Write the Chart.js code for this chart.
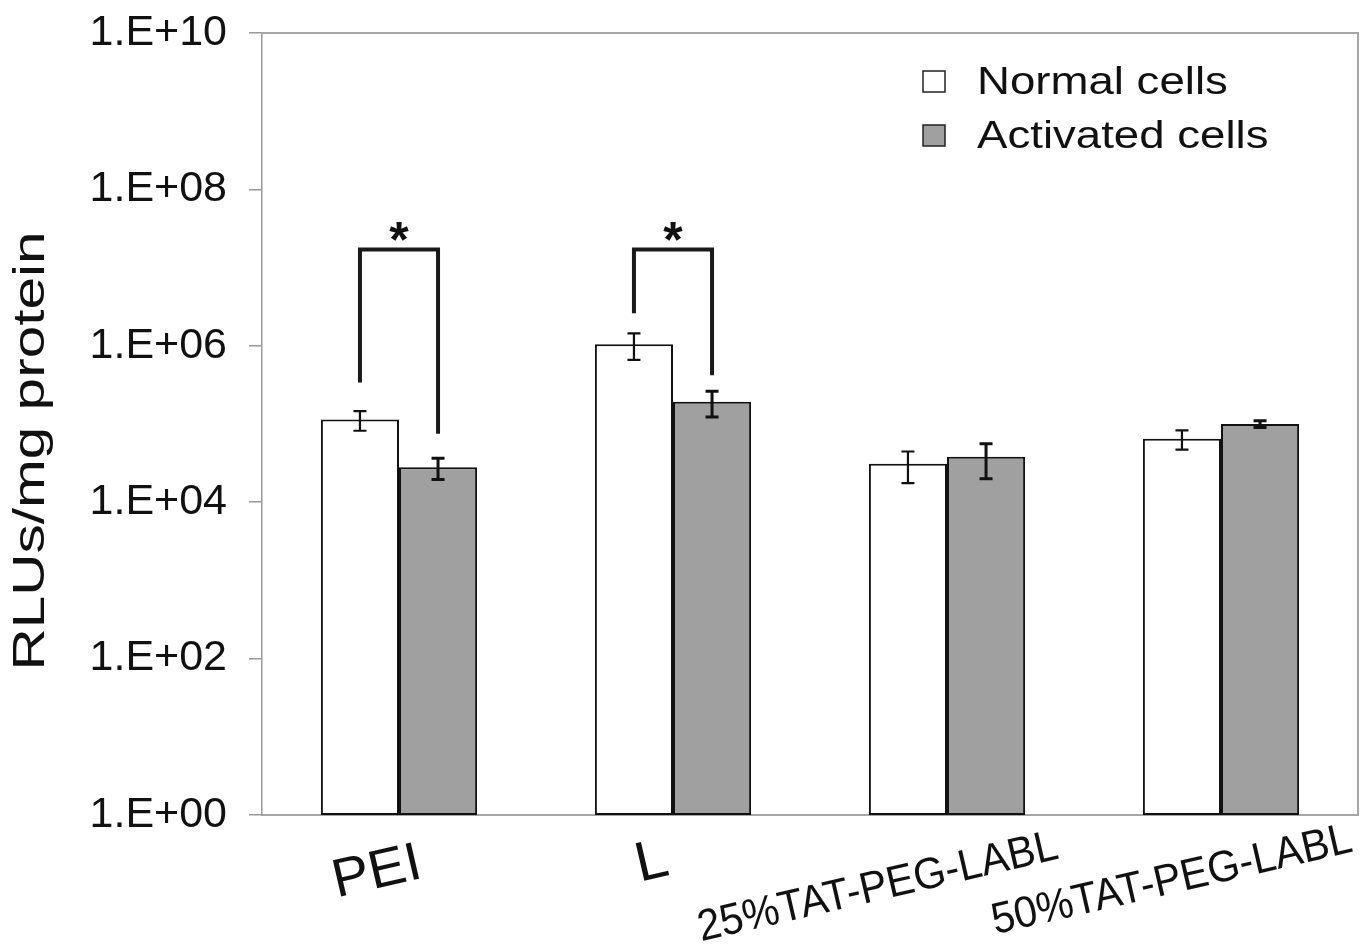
<!DOCTYPE html>
<html>
<head>
<meta charset="utf-8">
<script src="https://cdn.jsdelivr.net/npm/chart.js@4.4.1/dist/chart.umd.min.js"></script>
<style>
  html, body { margin: 0; padding: 0; background: #fff; }
  #wrap { width: 1362px; height: 952px; }
</style>
</head>
<body>
<div id="wrap"><canvas id="grafico" width="1362" height="952"></canvas></div>
<script>
// dados
const categorias = ["PEI", "L", "25%TAT-PEG-LABL", "50%TAT-PEG-LABL"];
const normalCells = [1.14e5, 1.05e6, 3.1e4, 6.5e4];
const normalErr = [3.2e4, 3.9e5, 1.35e4, 1.8e4];
const activatedCells = [2.8e4, 1.93e5, 3.8e4, 1.0e5];
const activatedErr = [8.5e3, 7.0e4, 1.8e4, 1.0e4];
const yTicks = [1, 1e2, 1e4, 1e6, 1e8, 1e10];

// colchetes de significância (*)
const bracketCat = [0, 1];
const bracketTop = [1.7e7, 1.7e7];
const bracketLeftEnd = [3.4e5, 2.6e6];
const bracketRightEnd = [7.5e4, 4.2e5];

const FONT = "'Liberation Sans', Arial, sans-serif";

// texto esticado na direção da escrita
function texto(ctx, str, x, y, size, sx, ang, align, base) {
  ctx.save();
  ctx.translate(x, y);
  ctx.rotate(ang);
  ctx.scale(sx, 1);
  ctx.font = `${size}px ${FONT}`;
  ctx.fillStyle = "#111";
  ctx.textAlign = align;
  ctx.textBaseline = base;
  ctx.fillText(str, 0, 0);
  ctx.restore();
}

const extras = {
  id: "extras",
  afterDatasetsDraw(chart) {
    const { ctx, chartArea: a, scales: { x, y } } = chart;

    // moldura cinza (topo e direita)
    ctx.save();
    ctx.strokeStyle = "#a6a6a6";
    ctx.lineWidth = 2;
    ctx.beginPath();
    ctx.moveTo(a.left, a.top);
    ctx.lineTo(a.right, a.top);
    ctx.lineTo(a.right, a.bottom);
    ctx.stroke();
    ctx.restore();

    // barras de erro
    const erros = [normalErr, activatedErr];
    chart.data.datasets.forEach((ds, di) => {
      const meta = chart.getDatasetMeta(di);
      meta.data.forEach((bar, i) => {
        const v = ds.data[i], e = erros[di][i];
        const yHi = y.getPixelForValue(v + e);
        const yLo = y.getPixelForValue(v - e);
        ctx.save();
        ctx.strokeStyle = "#111";
        ctx.lineWidth = di === 0 ? 2.2 : 3;
        ctx.beginPath();
        ctx.moveTo(bar.x, yHi); ctx.lineTo(bar.x, yLo);
        ctx.moveTo(bar.x - 6.5, yHi); ctx.lineTo(bar.x + 6.5, yHi);
        ctx.moveTo(bar.x - 6.5, yLo); ctx.lineTo(bar.x + 6.5, yLo);
        ctx.stroke();
        ctx.restore();
      });
    });

    // colchetes + asterisco
    const m0 = chart.getDatasetMeta(0), m1 = chart.getDatasetMeta(1);
    bracketCat.forEach((c, k) => {
      const xl = m0.data[c].x, xr = m1.data[c].x;
      const yt = y.getPixelForValue(bracketTop[k]);
      ctx.save();
      ctx.strokeStyle = "#1a1a1a";
      ctx.lineWidth = 4;
      ctx.lineJoin = "miter";
      ctx.beginPath();
      ctx.moveTo(xl, y.getPixelForValue(bracketLeftEnd[k]));
      ctx.lineTo(xl, yt);
      ctx.lineTo(xr, yt);
      ctx.lineTo(xr, y.getPixelForValue(bracketRightEnd[k]));
      ctx.stroke();
      ctx.restore();
      ctx.save();
      ctx.font = `bold 50px ${FONT}`;
      ctx.fillStyle = "#111";
      ctx.textAlign = "center";
      ctx.textBaseline = "alphabetic";
      ctx.fillText("*", (xl + xr) / 2, yt + 7);
      ctx.restore();
    });

    // rótulos do eixo x (rotacionados)
    const dx = [-22, -21, -69, -49];
    const dy = [58, 48, 73, 66];
    const tam = [54, 56, 44, 44];
    const esp = [1.03, 1.03, 0.94, 0.94];
    categorias.forEach((lab, i) => {
      const cx = x.getPixelForValue(i) + dx[i];
      texto(ctx, lab, cx, a.bottom + dy[i], tam[i], esp[i], -13 * Math.PI / 180, "center", "middle");
    });

    // título do eixo y
    texto(ctx, "RLUs/mg protein", 44, 451, 44, 1.33, -Math.PI / 2, "center", "alphabetic");

    // legenda
    const leg = [["Normal cells", "#ffffff"], ["Activated cells", "#a0a0a0"]];
    leg.forEach(([nome, cor], i) => {
      const by = 71 + i * 54;
      ctx.save();
      ctx.fillStyle = cor;
      ctx.strokeStyle = "#222";
      ctx.lineWidth = 1.5;
      ctx.fillRect(923, by, 22, 21);
      ctx.strokeRect(923, by, 22, 21);
      ctx.restore();
      texto(ctx, nome, 977, by + 23, 38, 1.2, 0, "left", "alphabetic");
    });
  }
};

new Chart(document.getElementById("grafico"), {
  type: "bar",
  data: {
    labels: categorias,
    datasets: [
      { label: "Normal cells", data: normalCells, backgroundColor: "#ffffff", borderColor: "#111", borderWidth: 2, borderSkipped: false },
      { label: "Activated cells", data: activatedCells, backgroundColor: "#a0a0a0", borderColor: "#111", borderWidth: 2, borderSkipped: false }
    ]
  },
  options: {
    responsive: false,
    animation: false,
    layout: { padding: { top: 33, right: 4, left: 0, bottom: 0 } },
    plugins: { legend: { display: false }, tooltip: { enabled: false } },
    datasets: { bar: { categoryPercentage: 0.57, barPercentage: 1.0 } },
    scales: {
      x: {
        offset: true,
        grid: { display: true, drawOnChartArea: false, drawTicks: false },
        border: { display: true, color: "#a6a6a6", width: 2 },
        ticks: { display: false },
        afterFit: s => { s.height = 137; }
      },
      y: {
        type: "logarithmic",
        min: 1,
        max: 1e10,
        grid: { display: true, drawOnChartArea: false, tickLength: 13, color: "#999", lineWidth: 1.5 },
        border: { display: true, color: "#999", width: 1.5 },
        afterBuildTicks: s => { s.ticks = yTicks.map(v => ({ value: v })); },
        ticks: {
          padding: 22,
          color: "#111",
          font: { family: FONT, size: 43 },
          callback: v => "1.E+" + String(Math.round(Math.log10(v))).padStart(2, "0")
        },
        afterFit: s => { s.width = 262; s.paddingTop = 0; s.paddingBottom = 0; }
      }
    }
  },
  plugins: [extras]
});
</script>
</body>
</html>
